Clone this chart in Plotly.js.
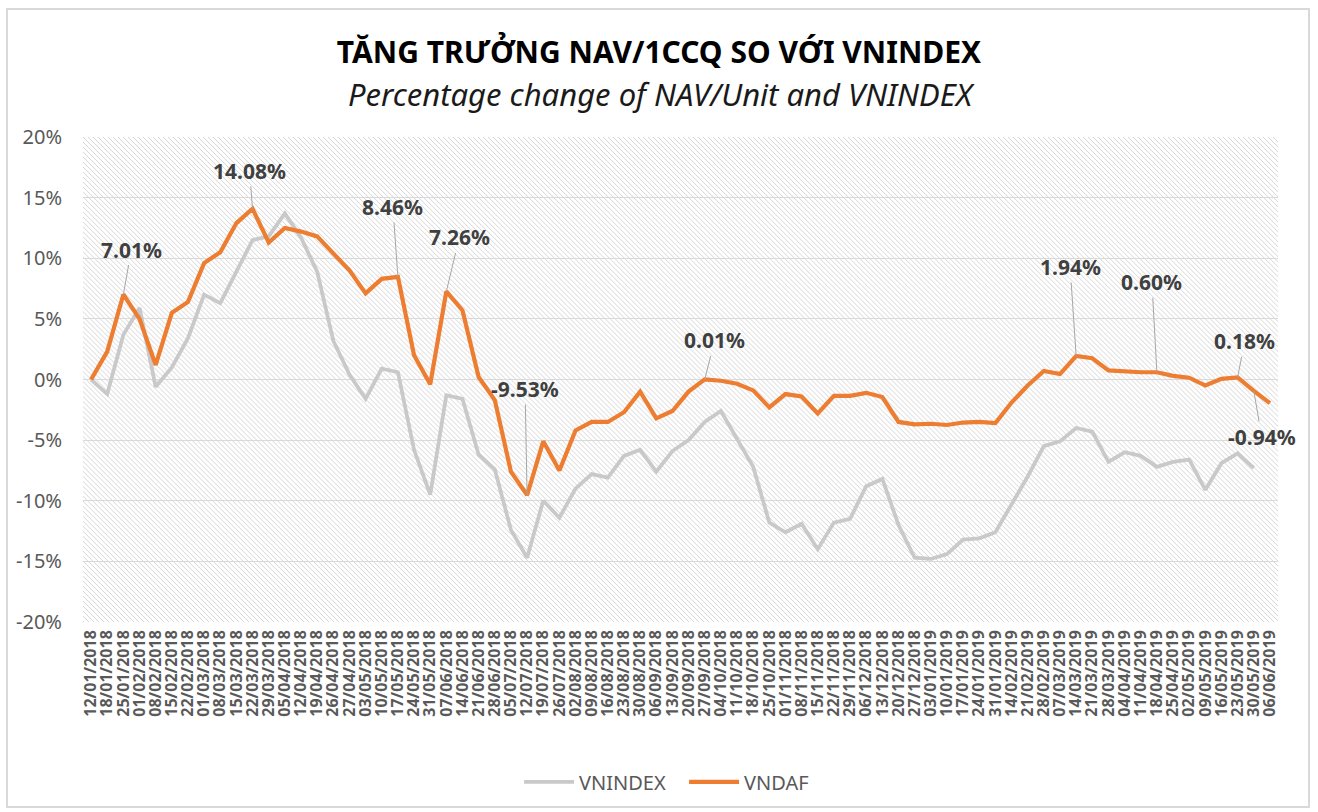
<!DOCTYPE html>
<html>
<head>
<meta charset="utf-8">
<script src="https://cdn.plot.ly/plotly-3.0.1.min.js"></script>
<style>
  html, body { margin: 0; padding: 0; background: #ffffff; }
  #frame { position: absolute; left: 6px; top: 8px; width: 1304px; height: 800px; border: 2px solid #d9d9d9; box-sizing: border-box; }
  #chart { position: absolute; left: 0; top: 0; width: 1318px; height: 812px; }
</style>
</head>
<body>
<div id="chart"></div>
<div id="frame"></div>
<script>
// ---------------- data ----------------
const dates = [
  "12/01/2018","18/01/2018","25/01/2018","01/02/2018","08/02/2018","15/02/2018","22/02/2018",
  "01/03/2018","08/03/2018","15/03/2018","22/03/2018","29/03/2018","05/04/2018","12/04/2018",
  "19/04/2018","26/04/2018","27/04/2018","03/05/2018","10/05/2018","17/05/2018","24/05/2018",
  "31/05/2018","07/06/2018","14/06/2018","21/06/2018","28/06/2018","05/07/2018","12/07/2018",
  "19/07/2018","26/07/2018","02/08/2018","09/08/2018","16/08/2018","23/08/2018","30/08/2018",
  "06/09/2018","13/09/2018","20/09/2018","27/09/2018","04/10/2018","11/10/2018","18/10/2018",
  "25/10/2018","01/11/2018","08/11/2018","15/11/2018","22/11/2018","29/11/2018","06/12/2018",
  "13/12/2018","20/12/2018","27/12/2018","03/01/2019","10/01/2019","17/01/2019","24/01/2019",
  "31/01/2019","14/02/2019","21/02/2019","28/02/2019","07/03/2019","14/03/2019","21/03/2019",
  "28/03/2019","04/04/2019","11/04/2019","18/04/2019","25/04/2019","02/05/2019","09/05/2019",
  "16/05/2019","23/05/2019","30/05/2019","06/06/2019"
];

// VNINDEX percentage change (%)
const vnindex = [
  0, -1.2, 3.7, 5.9, -0.6, 1.0, 3.4, 7.0, 6.3, 8.9, 11.5, 11.8, 13.7, 11.7,
  8.9, 3.2, 0.4, -1.6, 0.9, 0.6, -5.8, -9.5, -1.3, -1.6, -6.2, -7.4, -12.4, -14.7,
  -10.0, -11.4, -9.0, -7.8, -8.1, -6.3, -5.8, -7.6, -5.9, -5.0, -3.5, -2.6, -4.9, -7.2,
  -11.8, -12.6, -11.9, -14.0, -11.8, -11.5, -8.8, -8.2, -12.0, -14.7, -14.8, -14.4, -13.2, -13.1,
  -12.6, -10.3, -8.0, -5.5, -5.1, -4.0, -4.3, -6.8, -6.0, -6.3, -7.2, -6.8, -6.6, -9.1,
  -6.9, -6.1, -7.3, null
];

// VNDAF NAV/Unit percentage change (%)
const vndaf = [
  0, 2.3, 7.01, 5.0, 1.2, 5.5, 6.4, 9.6, 10.5, 12.9, 14.08, 11.3, 12.5, 12.2,
  11.8, 10.4, 9.0, 7.1, 8.3, 8.46, 2.0, -0.4, 7.26, 5.7, 0.2, -1.7, -7.6, -9.53,
  -5.1, -7.5, -4.2, -3.5, -3.5, -2.7, -1.0, -3.2, -2.6, -1.0, 0.01, -0.1, -0.35, -0.9,
  -2.3, -1.2, -1.4, -2.8, -1.35, -1.35, -1.1, -1.45, -3.5, -3.7, -3.65, -3.75, -3.55, -3.5,
  -3.6, -1.9, -0.5, 0.7, 0.45, 1.94, 1.75, 0.75, 0.65, 0.6, 0.60, 0.3, 0.15, -0.5,
  0.05, 0.18, -0.94, -1.95
];

// indices of VNDAF points carrying a data label
const labelIdx = [2, 10, 19, 22, 27, 38, 61, 66, 71, 72];

const yTickVals = [-20, -15, -10, -5, 0, 5, 10, 15, 20];

// ---------------- styling ----------------
// label offsets (pixels) from point to label, same order as labelIdx
const labelOffsets = [[8,-45],[-3,-38],[-5,-70],[13,-54],[-2,-106],[10,-39],[-6,-89],[-5,-90],[7,-36],[8,46]];

const W = 1195, H = 486;
const hatch = '<svg xmlns="http://www.w3.org/2000/svg" width="' + W + '" height="' + H + '" viewBox="0 0 ' + W + ' ' + H + '">' +
  '<defs><pattern id="p" patternUnits="userSpaceOnUse" width="5" height="5">' +
  '<path d="M-1,-1 L6,6 M-1,4 L1,6 M4,-1 L6,1" stroke="#d6d6d6" stroke-width="1"/></pattern></defs>' +
  '<rect width="100%" height="100%" fill="#ffffff"/><rect width="100%" height="100%" fill="url(#p)"/></svg>';
const hatchURI = 'data:image/svg+xml;charset=utf-8,' + encodeURIComponent(hatch);

const traces = [
  {
    type: 'scatter', mode: 'lines', name: 'VNINDEX',
    x: dates, y: vnindex,
    line: { color: '#c9c9c9', width: 3.8 },
    connectgaps: false, hoverinfo: 'x+y'
  },
  {
    type: 'scatter', mode: 'lines', name: 'VNDAF',
    x: dates, y: vndaf,
    line: { color: '#ed7d31', width: 4.2 },
    hoverinfo: 'x+y'
  }
];

const annotations = labelIdx.map((idx, k) => ({
  x: dates[idx], y: vndaf[idx], xref: 'x', yref: 'y',
  text: vndaf[idx].toFixed(2) + '%',
  showarrow: true, arrowhead: 0, arrowwidth: 1, arrowcolor: '#a6a6a6',
  ax: labelOffsets[k][0], ay: labelOffsets[k][1], standoff: 0,
  font: { family: 'Noto Sans, sans-serif', size: 21, color: '#404040', weight: 'bold' }
}));

annotations.push({
  xref: 'paper', yref: 'paper', x: 0.484, y: 1.088, xanchor: 'center', yanchor: 'middle',
  showarrow: false,
  text: '<i>Percentage change of NAV/Unit and VNINDEX</i>',
  font: { family: 'Noto Sans, sans-serif', size: 31, color: '#1a1a1a' }
});

const layout = {
  width: 1318, height: 812,
  margin: { l: 83, r: 40, t: 137, b: 189, pad: 0 },
  paper_bgcolor: '#ffffff',
  plot_bgcolor: 'rgba(0,0,0,0)',
  title: {
    text: '<b>TĂNG TRƯỞNG NAV/1CCQ SO VỚI VNINDEX</b>',
    x: 0.5, xref: 'container', xanchor: 'center',
    y: 1 - 52 / 812, yref: 'container', yanchor: 'middle',
    font: { family: 'Noto Sans, sans-serif', size: 30, color: '#000000' }
  },
  xaxis: {
    type: 'category',
    tickmode: 'linear', tick0: 0, dtick: 1,
    tickangle: -90,
    tickfont: { family: 'Noto Sans, sans-serif', size: 16, color: '#595959', weight: 'bold' },
    showgrid: false, zeroline: false, showline: false, ticks: '',
    ticklabelstandoff: 4,
    range: [-0.5, dates.length - 0.5],
    fixedrange: true
  },
  yaxis: {
    range: [-20, 20],
    tickmode: 'array', tickvals: yTickVals, ticktext: yTickVals.map(v => v + '%'),
    tickfont: { family: 'Noto Sans, sans-serif', size: 20, color: '#595959' },
    showgrid: true, gridcolor: '#d9d9d9', gridwidth: 1,
    zeroline: false, showline: false, ticks: '',
    ticklabelstandoff: 20,
    fixedrange: true
  },
  showlegend: true,
  legend: {
    orientation: 'h', x: 0.503, xanchor: 'center', y: -0.327, yanchor: 'middle',
    font: { family: 'Noto Sans, sans-serif', size: 20, color: '#595959' },
    itemwidth: 50, entrywidth: 100, entrywidthmode: 'pixels',
    tracegroupgap: 0, bgcolor: 'rgba(0,0,0,0)'
  },
  images: [{
    source: hatchURI, xref: 'paper', yref: 'paper', x: 0, y: 1, sizex: 1, sizey: 1,
    xanchor: 'left', yanchor: 'top', sizing: 'stretch', layer: 'below'
  }],
  annotations: annotations
};

Plotly.newPlot('chart', traces, layout, { displayModeBar: false, staticPlot: true });
</script>
</body>
</html>
